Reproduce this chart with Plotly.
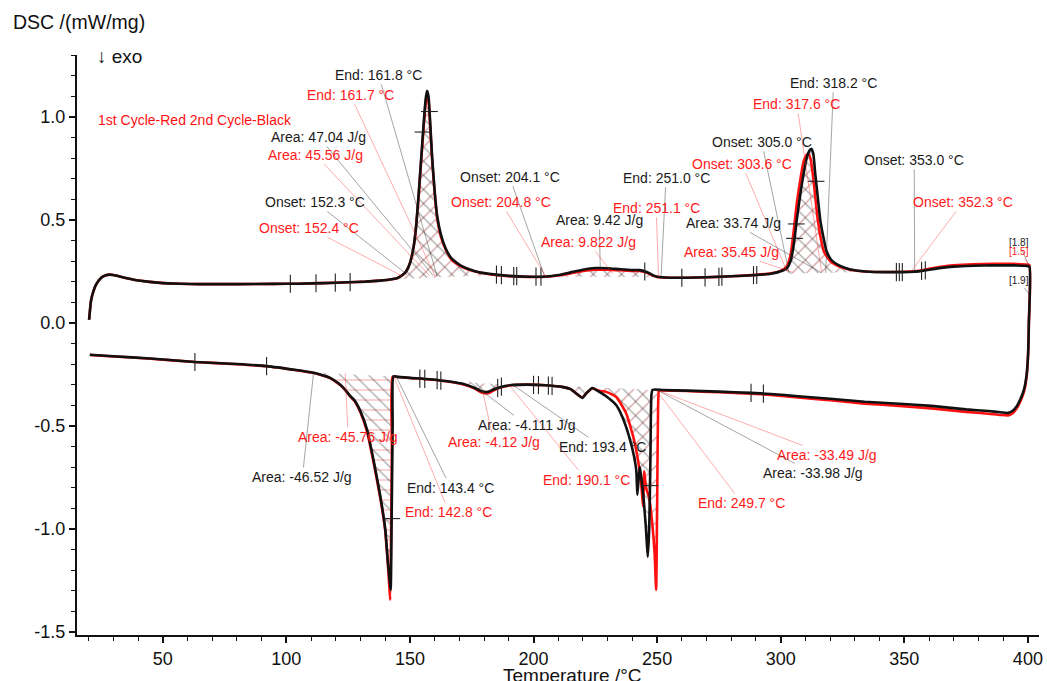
import numpy as np
import plotly.graph_objects as go

# ---------------- data ----------------
# heating segment, 2nd cycle (black)
heat_T_black = [20.2, 21, 22, 23, 25, 27, 28.5, 30, 33, 37, 41, 49, 57, 65, 80, 95, 105, 115, 125, 132,
                138, 142, 145, 147, 148.5, 150, 151.5, 152.5, 153.5, 154.5, 155.5, 156.3, 156.9, 157.5, 158.2,
                159, 160, 161, 162.5, 164.5, 167, 171, 176, 182, 190, 198, 205, 210, 215, 220, 225, 230, 235,
                240, 243, 246, 248, 250, 255, 262, 270, 280, 290, 296, 300, 302.5, 304, 305.3, 306.5, 308,
                309.2, 310.5, 311.6, 312.4, 313.2, 314, 315, 316, 317.2, 318.5, 320.5, 323.4, 326.5, 330, 336,
                345, 352, 356, 360, 365, 370, 378, 386, 394, 399, 400.6]
heat_dsc_black = [0.015, 0.11, 0.155, 0.185, 0.218, 0.231, 0.234, 0.232, 0.224, 0.213, 0.204, 0.194, 0.19,
                  0.188, 0.188, 0.189, 0.19, 0.193, 0.197, 0.2, 0.205, 0.21, 0.218, 0.232, 0.25, 0.29, 0.37,
                  0.47, 0.62, 0.79, 0.96, 1.08, 1.126, 1.10, 0.97, 0.80, 0.64, 0.52, 0.43, 0.36, 0.31, 0.275,
                  0.252, 0.238, 0.228, 0.224, 0.225, 0.232, 0.245, 0.258, 0.266, 0.265, 0.26, 0.256, 0.256,
                  0.246, 0.233, 0.224, 0.219, 0.219, 0.221, 0.226, 0.232, 0.238, 0.25, 0.265, 0.30, 0.38, 0.50,
                  0.63, 0.72, 0.80, 0.835, 0.845, 0.82, 0.72, 0.61, 0.50, 0.42, 0.35, 0.305, 0.28, 0.265, 0.255,
                  0.248, 0.246, 0.247, 0.25, 0.258, 0.267, 0.273, 0.277, 0.279, 0.279, 0.277, 0.273]

# heating segment, 1st cycle (red)
heat_T_red = [20.2, 21, 22, 23, 25, 27, 28.5, 30, 33, 37, 41, 49, 57, 65, 80, 95, 105, 115, 125, 132,
              138, 142, 145, 147, 148.5, 150, 151.5, 152.5, 153.5, 154.5, 155.5, 156.3, 156.9, 157.5, 158.2,
              159, 160, 161, 162.5, 164.5, 167, 171, 176, 182, 190, 198, 205, 210, 215, 220, 225, 230, 235,
              240, 243, 246, 248, 250, 255, 262, 270, 280, 290, 296, 300, 302.5, 304, 305.3, 306.5, 308,
              309.2, 310.5, 311.3, 312.2, 313, 314, 315, 316.2, 317.5, 320, 323.4, 326.5, 330, 336,
              345, 352, 356, 360, 365, 370, 378, 386, 394, 399, 400.6]
heat_dsc_red = [0.015, 0.11, 0.155, 0.185, 0.218, 0.231, 0.234, 0.232, 0.224, 0.213, 0.204, 0.194, 0.19,
                0.188, 0.188, 0.189, 0.19, 0.193, 0.197, 0.2, 0.205, 0.21, 0.218, 0.232, 0.25, 0.29, 0.37,
                0.47, 0.61, 0.78, 0.94, 1.06, 1.10, 1.08, 0.95, 0.79, 0.63, 0.51, 0.42, 0.355, 0.305, 0.272,
                0.25, 0.236, 0.227, 0.223, 0.224, 0.23, 0.24, 0.252, 0.258, 0.258, 0.255, 0.252, 0.252,
                0.243, 0.231, 0.223, 0.219, 0.219, 0.221, 0.226, 0.233, 0.24, 0.252, 0.275, 0.33, 0.45, 0.58,
                0.70, 0.78, 0.815, 0.82, 0.79, 0.72, 0.61, 0.50, 0.41, 0.345, 0.30, 0.275, 0.262, 0.254,
                0.248, 0.247, 0.249, 0.253, 0.262, 0.272, 0.279, 0.284, 0.286, 0.286, 0.283, 0.28]

# cooling segment, 2nd cycle (black) - temperature decreasing
cool_T_black = [400.4, 400.1, 399.5, 398.5, 397, 395.5, 394, 392, 389, 384, 375, 361, 348, 334, 320, 307,
                296, 288, 275, 262, 252, 248.2, 247.7, 247.3, 246.8, 246.2, 245.5, 244.5, 243.6, 243, 242.5,
                242, 241.6, 240.7, 238.7, 235.9, 233.5, 229.8, 226.6, 223.8, 221.5, 219.8, 217.5, 215, 212,
                205, 197, 191, 187, 184, 181.5, 179, 176, 172, 166, 158, 150, 145, 143.3, 143.0, 142.6,
                142.2, 141.8, 141.0, 140, 138, 135.5, 132.7, 130, 127.5, 125.8, 123.5, 121.8, 119.5, 117.7,
                114, 110, 104, 92, 80, 63, 45, 30, 20.5]
cool_dsc_black = [0.0, -0.15, -0.25, -0.32, -0.37, -0.405, -0.425, -0.437, -0.434, -0.428, -0.42, -0.403,
                  -0.393, -0.383, -0.368, -0.356, -0.345, -0.34, -0.334, -0.329, -0.326, -0.325, -0.35,
                  -0.65, -1.0, -1.135, -1.0, -0.85, -0.75, -0.70, -0.76, -0.835, -0.72, -0.65, -0.553,
                  -0.456, -0.40, -0.36, -0.335, -0.316, -0.34, -0.364, -0.345, -0.322, -0.312, -0.303,
                  -0.30, -0.302, -0.31, -0.322, -0.335, -0.332, -0.315, -0.298, -0.285, -0.274, -0.267,
                  -0.262, -0.26, -0.5, -0.95, -1.296, -1.25, -1.15, -1.0, -0.84, -0.68, -0.52, -0.43,
                  -0.375, -0.355, -0.32, -0.30, -0.28, -0.267, -0.252, -0.24, -0.229, -0.21, -0.2, -0.19,
                  -0.173, -0.162, -0.155]

# cooling segment, 1st cycle (red)
cool_T_red = [400.4, 400.1, 399.5, 398.5, 397, 395.5, 394, 392, 389, 384, 375, 361, 348, 334, 320, 307,
              296, 288, 275, 262, 252, 250.8, 250.4, 250.0, 249.6, 249, 248, 246.8, 245.5, 244.8, 244.3,
              243.7, 242.7, 240.7, 237.5, 233.5, 229.4, 226.6, 223.8, 221.5, 219.8, 217.5, 215, 212,
              205, 197, 191, 187, 184, 181.5, 179, 176, 172, 166, 158, 150, 145, 143.0, 142.7, 142.4,
              142.0, 141.6, 141.0, 140, 138, 135.5, 132.7, 130, 127.5, 125.8, 123.5, 121.8, 119.5, 117.7,
              114, 110, 104, 92, 80, 63, 45, 30, 20.5]
cool_dsc_red = [0.0, -0.15, -0.26, -0.33, -0.38, -0.415, -0.437, -0.449, -0.447, -0.441, -0.432, -0.415,
                -0.403, -0.392, -0.376, -0.362, -0.35, -0.344, -0.337, -0.331, -0.328, -0.327, -0.4,
                -0.9, -1.296, -1.12, -0.97, -0.85, -0.80, -0.72, -0.89, -0.80, -0.70, -0.57, -0.44, -0.36,
                -0.335, -0.33, -0.318, -0.34, -0.362, -0.345, -0.322, -0.312, -0.303, -0.30, -0.303,
                -0.313, -0.327, -0.342, -0.338, -0.318, -0.30, -0.286, -0.275, -0.268, -0.263, -0.261,
                -0.6, -1.0, -1.345, -1.27, -1.16, -1.01, -0.85, -0.69, -0.53, -0.435, -0.378, -0.357,
                -0.322, -0.302, -0.282, -0.268, -0.253, -0.241, -0.23, -0.211, -0.201, -0.19, -0.174,
                -0.163, -0.156]

x_tick_vals = [50, 100, 150, 200, 250, 300, 350, 400]
y_tick_vals = [-1.5, -1.0, -0.5, 0.0, 0.5, 1.0]
y_tick_text = ["-1.5", "-1.0", "-0.5", "0.0", "0.5", "1.0"]

# integration windows (degC)
heat_windows = [(141, 185), (203, 252), (293, 336)]
cool_windows_black = [(110, 143.3), (166, 193), (206, 248.2)]
cool_windows_red = [(110, 143.0), (166, 193), (206, 250.8)]

# evaluation limit marks on the curves
heat_limit_marks = [101.6, 112, 119.8, 125.8, 185, 187, 192, 193.2, 201, 203, 245, 260, 269.4, 275,
                    276.2, 289, 290.3, 346.8, 348, 349.2, 357, 358.5]
cool_limit_marks = [63, 92, 154, 156, 161, 162.5, 185.5, 187, 200, 202, 206, 207.5, 288, 293]
heat_peak_marks = [155.3, 157.9, 306.3, 305.6, 314.3]
cool_peak_marks = [142.6, 247.1]

# analysis labels: text, cycle, label position (T, DSC), pointed position (T, DSC)
labels = [
    ("End: 161.8 °C", "k", 137.3, 1.204, 161.0, 0.226),
    ("End: 161.7 °C", "r", 125.8, 1.107, 160.2, 0.226),
    ("Area: 47.04 J/g", "k", 113.1, 0.903, 159.5, 0.228),
    ("Area: 45.56 J/g", "r", 111.7, 0.816, 158.0, 0.228),
    ("Onset: 152.3 °C", "k", 111.7, 0.587, 148.8, 0.235),
    ("Onset: 152.4 °C", "r", 109.3, 0.461, 146.8, 0.228),
    ("Onset: 204.1 °C", "k", 190.3, 0.709, 204.4, 0.228),
    ("Onset: 204.8 °C", "r", 186.7, 0.587, 205.0, 0.225),
    ("Area: 9.42 J/g", "k", 226.6, 0.500, 227.0, 0.262),
    ("Area: 9.822 J/g", "r", 222.2, 0.393, 232.0, 0.238),
    ("End: 251.0 °C", "k", 253.6, 0.704, 251.6, 0.222),
    ("End: 251.1 °C", "r", 249.6, 0.558, 250.6, 0.222),
    ("End: 318.2 °C", "k", 321.4, 1.165, 318.2, 0.242),
    ("End: 317.6 °C", "r", 306.5, 1.063, 316.5, 0.25),
    ("Onset: 305.0 °C", "k", 292.3, 0.879, 303.3, 0.245),
    ("Onset: 303.6 °C", "r", 284.3, 0.772, 302.5, 0.25),
    ("Area: 33.74 J/g", "k", 280.8, 0.485, 316.5, 0.243),
    ("Area: 35.45 J/g", "r", 280.0, 0.345, 305.0, 0.245),
    ("Onset: 353.0 °C", "k", 354.0, 0.791, 354.2, 0.25),
    ("Onset: 352.3 °C", "r", 373.8, 0.587, 352.8, 0.25),
    ("Area: -45.76 J/g", "r", 125.0, -0.553, 123.8, -0.245),
    ("Area: -46.52 J/g", "k", 106.5, -0.748, 111.0, -0.242),
    ("End: 143.4 °C", "k", 166.5, -0.800, 144.5, -0.262),
    ("End: 142.8 °C", "r", 165.7, -0.917, 143.5, -0.262),
    ("Area: -4.111 J/g", "k", 197.2, -0.495, 174.0, -0.285),
    ("Area: -4.12 J/g", "r", 183.9, -0.578, 179.4, -0.33),
    ("End: 193.4 °C", "k", 227.8, -0.602, 191.5, -0.30),
    ("End: 190.1 °C", "r", 221.4, -0.762, 190.0, -0.30),
    ("End: 249.7 °C", "r", 284.3, -0.874, 249.6, -0.326),
    ("Area: -33.49 J/g", "r", 318.9, -0.641, 250.0, -0.326),
    ("Area: -33.98 J/g", "k", 312.9, -0.728, 250.0, -0.326),
    ("[1.8]", "k", 396.4, 0.388, 400.6, 0.273),
    ("[1.5]", "r", 396.4, 0.345, 400.6, 0.28),
    ("[1.9]", "k", 396.4, 0.204, 400.4, 0.14),
]

# ---------------- styling ----------------
FONT = "Liberation Sans, Arial, Helvetica, sans-serif"
BLACK = "#111111"
RED = "#ff1010"
TXT = {"k": "#1a1a1a", "r": "#ff1a1a"}
LEAD = {"k": "rgba(40,40,40,0.6)", "r": "rgba(255,40,40,0.55)"}
SMOOTH = 0.5


def region(T, v, t1, t2):
    T = np.asarray(T, float)
    v = np.asarray(v, float)
    o = np.argsort(T)
    Ts, vs = T[o], v[o]
    m = (Ts > t1) & (Ts < t2)
    xs = [t1] + list(Ts[m]) + [t2]
    ys = [float(np.interp(t1, Ts, vs))] + list(vs[m]) + [float(np.interp(t2, Ts, vs))]
    return xs, ys


def interp_on(T, v, t):
    T = np.asarray(T, float)
    v = np.asarray(v, float)
    o = np.argsort(T)
    return np.interp(t, T[o], v[o])


fig = go.Figure()


def add_hatch(T, v, windows, shape, fg, edge):
    for (t1, t2) in windows:
        xs, ys = region(T, v, t1, t2)
        fig.add_trace(go.Scatter(
            x=xs, y=ys, mode="lines", fill="toself",
            fillcolor="rgba(0,0,0,0)",
            fillpattern=dict(shape=shape, fgcolor=fg, bgcolor="rgba(0,0,0,0)", size=10, solidity=0.14),
            line=dict(color=edge, width=0.8),
            hoverinfo="skip", showlegend=False))


add_hatch(heat_T_red, heat_dsc_red, heat_windows, "/", "rgba(140,30,30,0.8)", "rgba(200,60,60,0.7)")
add_hatch(heat_T_black, heat_dsc_black, heat_windows, "\\", "rgba(40,40,40,0.75)", "rgba(60,60,60,0.6)")
add_hatch(cool_T_red, cool_dsc_red, cool_windows_red[:1], "-", "rgba(230,60,60,0.65)", "rgba(200,60,60,0.7)")
add_hatch(cool_T_red, cool_dsc_red, cool_windows_red[1:], "/", "rgba(140,30,30,0.8)", "rgba(200,60,60,0.7)")
add_hatch(cool_T_black, cool_dsc_black, cool_windows_black, "\\", "rgba(40,40,40,0.75)", "rgba(60,60,60,0.6)")

# main curves: heating then cooling (one continuous run per cycle)
fig.add_trace(go.Scatter(x=heat_T_red + cool_T_red, y=heat_dsc_red + cool_dsc_red, mode="lines",
                         line=dict(color=RED, width=2.6, shape="spline", smoothing=SMOOTH),
                         name="1st Cycle", showlegend=False))
fig.add_trace(go.Scatter(x=heat_T_black + cool_T_black, y=heat_dsc_black + cool_dsc_black, mode="lines",
                         line=dict(color=BLACK, width=2.6, shape="spline", smoothing=SMOOTH),
                         name="2nd Cycle", showlegend=False))

# limit marks (short vertical strokes on the curves)
fig.add_trace(go.Scatter(
    x=heat_limit_marks + cool_limit_marks,
    y=list(interp_on(heat_T_black, heat_dsc_black, heat_limit_marks)) +
      list(interp_on(cool_T_black, cool_dsc_black, cool_limit_marks)),
    mode="markers", marker=dict(symbol="line-ns", size=13, line=dict(width=1.1, color="#222")),
    hoverinfo="skip", showlegend=False))
fig.add_trace(go.Scatter(
    x=heat_peak_marks + cool_peak_marks,
    y=list(interp_on(heat_T_black, heat_dsc_black, heat_peak_marks)) +
      list(interp_on(cool_T_black, cool_dsc_black, cool_peak_marks)),
    mode="markers", marker=dict(symbol="line-ew", size=12, line=dict(width=1.1, color="#222")),
    hoverinfo="skip", showlegend=False))

annotations = []
for text, cyc, lx, ly, tx, ty in labels:
    small = text.startswith("[")
    annotations.append(dict(
        x=tx, y=ty, ax=lx, ay=ly, axref="x", ayref="y", xref="x", yref="y",
        text=text, showarrow=True, arrowhead=0, arrowwidth=0.7, arrowcolor=LEAD[cyc],
        font=dict(family=FONT, size=10 if small else 14, color=TXT[cyc])))

annotations.append(dict(x=23, y=0.985, xref="x", yref="y", xanchor="left", yanchor="middle",
                        text="1st Cycle-Red 2nd Cycle-Black", showarrow=False,
                        font=dict(family=FONT, size=14, color=RED)))
annotations.append(dict(x=-0.069, y=1.057, xref="paper", yref="paper", xanchor="left", yanchor="middle",
                        text="DSC /(mW/mg)", showarrow=False,
                        font=dict(family=FONT, size=19.5, color="#111")))
annotations.append(dict(x=0.0186, y=0.9966, xref="paper", yref="paper", xanchor="left", yanchor="middle",
                        text="↓ exo", showarrow=False, font=dict(family=FONT, size=19, color="#111")))
annotations.append(dict(x=0.5155, y=-0.069, xref="paper", yref="paper", xanchor="center", yanchor="middle",
                        text="Temperature /°C", showarrow=False, font=dict(family=FONT, size=19, color="#111")))

fig.update_layout(
    width=1047, height=681,
    margin=dict(l=77, r=4, t=55, b=46),
    paper_bgcolor="white", plot_bgcolor="white",
    font=dict(family=FONT, size=18, color="#111"),
    annotations=annotations,
    showlegend=False,
)
fig.update_xaxes(range=[15.3, 404.5], tickvals=x_tick_vals, showgrid=False, zeroline=False,
                 showline=True, linecolor="#111", linewidth=2, ticks="outside", ticklen=6,
                 tickwidth=1.5, tickcolor="#111", tickfont=dict(size=18, family=FONT),
                 minor=dict(dtick=10, tick0=0, ticks="outside", ticklen=4, tickwidth=1.2, tickcolor="#111"))
fig.update_yaxes(range=[-1.515, 1.30], tickvals=y_tick_vals, ticktext=y_tick_text, showgrid=False,
                 zeroline=False, showline=True, linecolor="#111", linewidth=2, ticks="outside", ticklen=6,
                 tickwidth=1.5, tickcolor="#111", tickfont=dict(size=18, family=FONT),
                 minor=dict(dtick=0.1, tick0=0, ticks="outside", ticklen=4, tickwidth=1.2, tickcolor="#111"))

fig.write_html("out.html", config={"displayModeBar": False},
               post_script="document.body.style.margin='0px';")
